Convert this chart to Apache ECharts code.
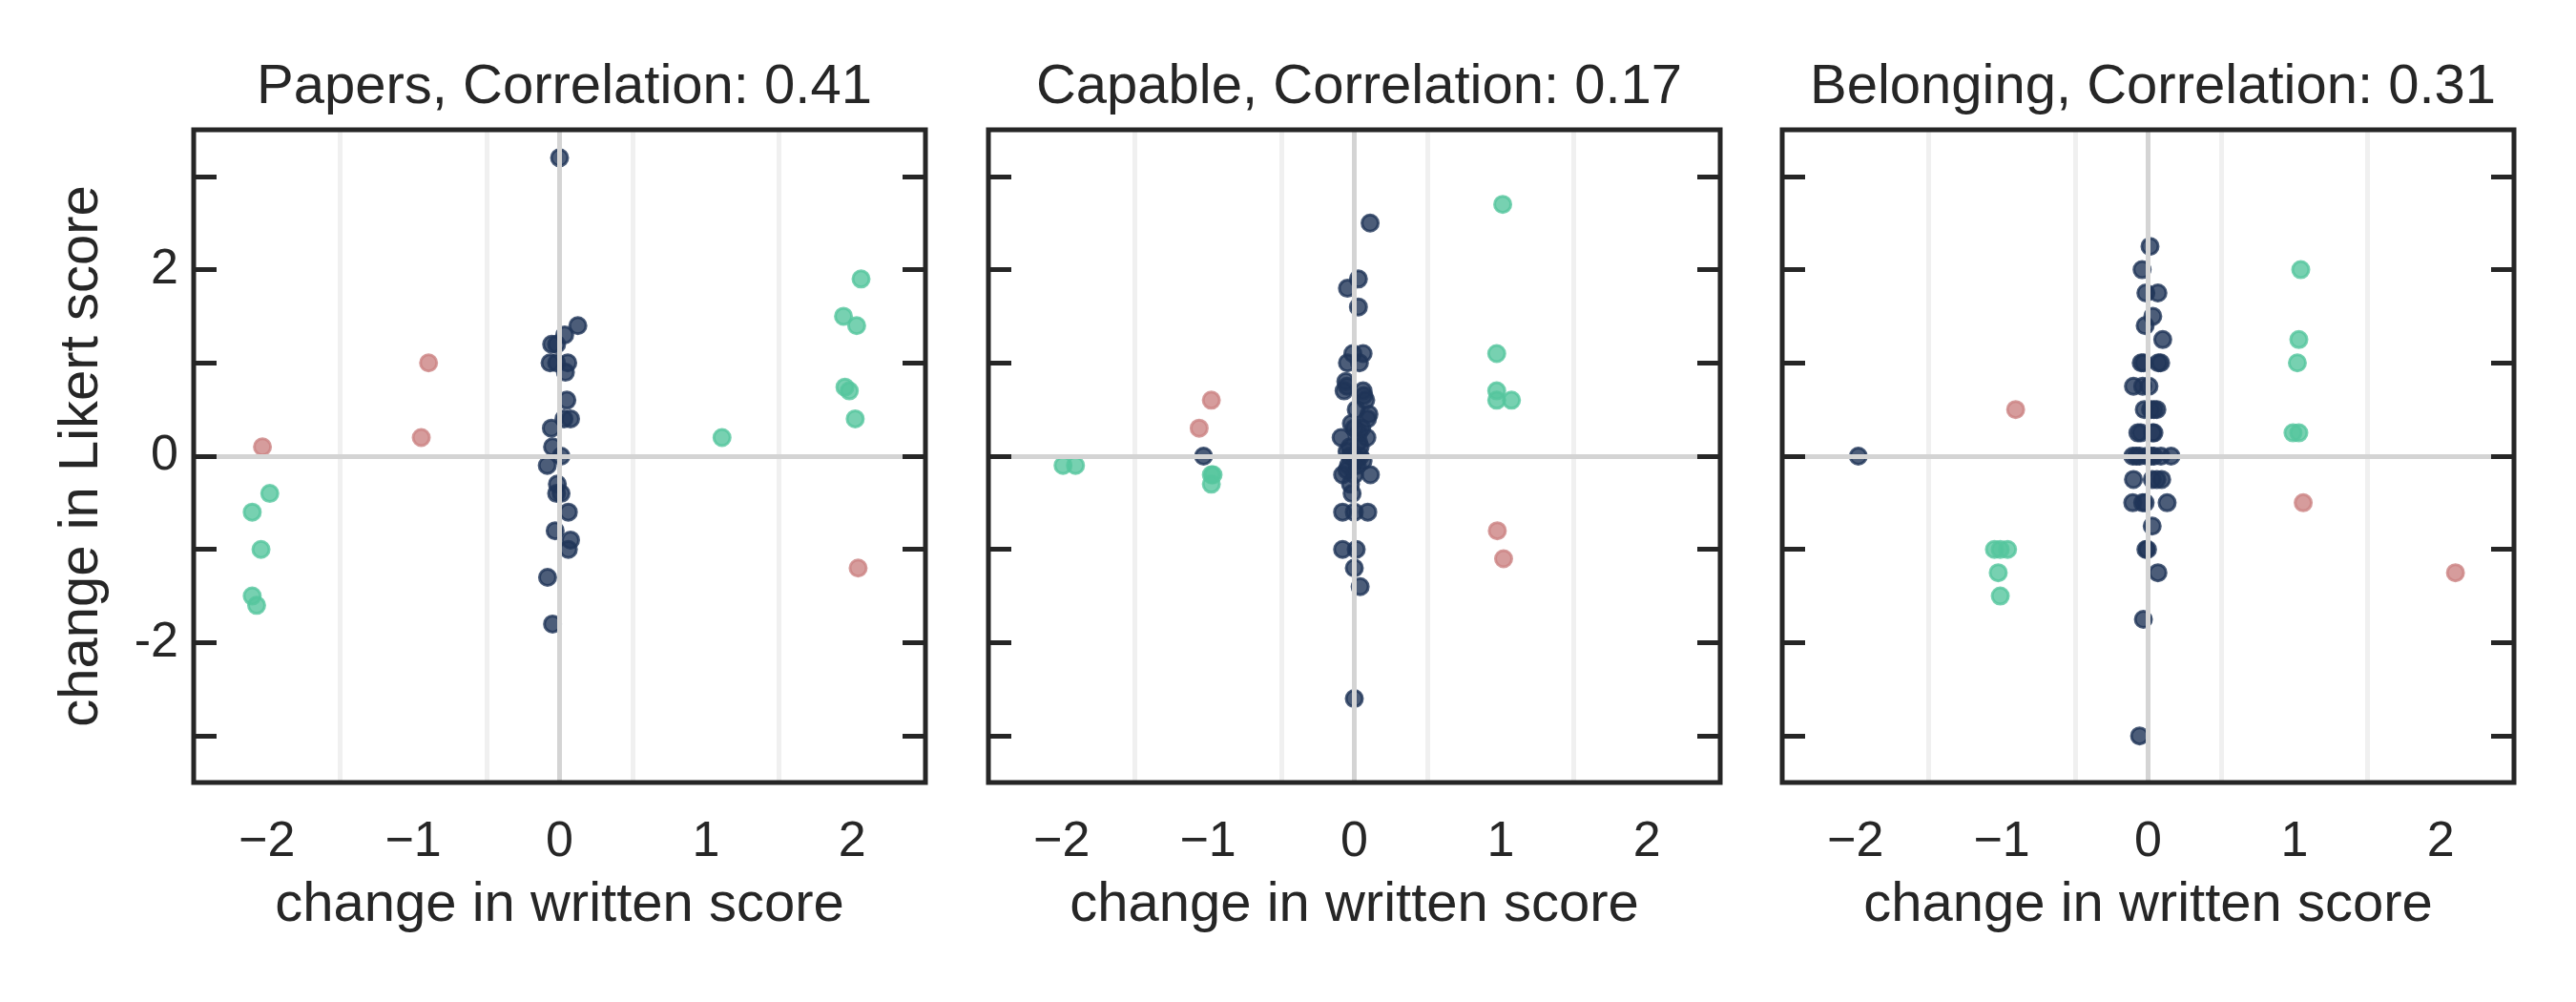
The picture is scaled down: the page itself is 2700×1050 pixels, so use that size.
<!DOCTYPE html>
<html>
<head>
<meta charset="utf-8">
<script src="https://cdn.jsdelivr.net/npm/echarts@6/dist/echarts.min.js"></script>
<style>
  html, body { margin: 0; padding: 0; background: #ffffff; }
  #main { width: 2700px; height: 1050px; }
</style>
</head>
<body>
<div id="main"></div>
<script type="text/javascript">
  // values: [change in written score (jittered), change in Likert score]
  var panelTitles = ['Papers, Correlation: 0.41', 'Capable, Correlation: 0.17', 'Belonging, Correlation: 0.31'];
  var xTicks = [-2, -1, 0, 1, 2];
  var yTicks = [-3, -2, -1, 0, 1, 2, 3];
  var yLabels = [-2, 0, 2];
  var gridLinesX = [-1.5, -0.5, 0.5, 1.5];

  // navy = one of the two changes is zero, green = same sign, red = opposite sign
  var papersNeutral = [
    [0.0, 3.2], [0.125, 1.4], [0.035, 1.3], [-0.054, 1.2], [-0.02, 1.2], [-0.065, 1.0], [-0.02, 1.0],
    [0.056, 1.0], [0.04, 0.9], [0.05, 0.6], [0.03, 0.4], [0.075, 0.4], [-0.056, 0.3], [-0.048, 0.1],
    [0.01, 0.0], [-0.084, -0.1], [-0.015, -0.3], [-0.02, -0.4], [0.01, -0.4], [0.06, -0.6],
    [-0.03, -0.8], [0.075, -0.9], [0.06, -1.0], [-0.082, -1.3], [-0.048, -1.8]
  ];
  var papersAgree = [
    [-1.98, -0.4], [-2.1, -0.6], [-2.04, -1.0], [-2.1, -1.5], [-2.07, -1.6], [1.11, 0.2],
    [2.06, 1.9], [1.94, 1.5], [2.03, 1.4], [1.95, 0.74], [1.98, 0.7], [2.02, 0.4]
  ];
  var papersDisagree = [[-2.03, 0.1], [-0.895, 1.0], [-0.945, 0.2], [2.04, -1.2]];

  var capableNeutral = [
    [0.108, 2.5], [0.028, 1.9], [-0.047, 1.8], [0.028, 1.6], [-0.01, 1.1], [0.06, 1.1], [-0.047, 1.0],
    [0.035, 1.0], [-0.058, 0.8], [-0.05, 0.75], [-0.07, 0.7], [0.06, 0.7], [0.065, 0.65], [0.078, 0.6],
    [0.013, 0.5], [0.1, 0.45], [0.09, 0.4], [-0.02, 0.35], [0.0, 0.3], [0.05, 0.3], [0.03, 0.25],
    [-0.09, 0.2], [0.086, 0.2], [0.03, 0.15], [-0.03, 0.1], [0.04, 0.1], [-0.05, 0.05], [0.0, 0.0],
    [-0.03, 0.0], [0.04, 0.0], [0.01, -0.05], [0.06, -0.05], [-0.04, -0.1], [0.02, -0.1],
    [-0.05, -0.15], [0.0, -0.2], [0.11, -0.2], [-0.08, -0.2], [-0.026, -0.3], [-0.015, -0.4],
    [-0.08, -0.6], [0.0, -0.6], [0.092, -0.6], [-0.08, -1.0], [0.013, -1.0], [0.0, -1.2],
    [0.04, -1.4], [0.0, -2.6], [-1.03, 0.0]
  ];
  var capableAgree = [
    [-1.99, -0.1], [-1.905, -0.1], [-0.977, -0.2], [-0.965, -0.2], [-0.977, -0.3],
    [1.014, 2.7], [0.973, 1.1], [0.973, 0.7], [0.973, 0.6], [1.074, 0.6]
  ];
  var capableDisagree = [[-0.977, 0.6], [-1.06, 0.3], [0.977, -0.8], [1.02, -1.1]];

  var belongingNeutral = [
    [-1.98, 0.0], [0.013, 2.25], [-0.041, 2.0], [-0.015, 1.75], [0.067, 1.75], [0.032, 1.5],
    [-0.02, 1.4], [0.1, 1.25], [-0.047, 1.0], [-0.03, 1.0], [0.086, 1.0], [0.07, 1.0],
    [-0.1, 0.75], [-0.037, 0.75], [0.006, 0.75], [-0.026, 0.5], [0.017, 0.5], [0.04, 0.5],
    [0.06, 0.5], [-0.07, 0.25], [-0.05, 0.25], [0.03, 0.25], [0.04, 0.25], [-0.105, 0.0],
    [-0.08, 0.0], [-0.058, 0.0], [-0.004, 0.0], [0.02, 0.0], [0.04, 0.0], [0.088, 0.0],
    [0.157, 0.0], [-0.1, -0.25], [0.028, -0.25], [0.06, -0.25], [0.093, -0.25], [-0.105, -0.5],
    [-0.037, -0.5], [-0.02, -0.5], [0.13, -0.5], [0.028, -0.75], [-0.004, -1.0], [-0.015, -1.0],
    [0.067, -1.25], [-0.032, -1.75], [-0.058, -3.0]
  ];
  var belongingAgree = [
    [-1.05, -1.0], [-1.01, -1.0], [-0.96, -1.0], [-1.024, -1.25], [-1.01, -1.5],
    [1.043, 2.0], [1.03, 1.25], [1.02, 1.0], [0.99, 0.25], [1.03, 0.25]
  ];
  var belongingDisagree = [[-0.905, 0.5], [1.06, -0.5], [2.1, -1.25]];

  var panelData = [
    [papersNeutral, papersAgree, papersDisagree],
    [capableNeutral, capableAgree, capableDisagree],
    [belongingNeutral, belongingAgree, belongingDisagree]
  ];
  var groupNames = ['neutral', 'agree', 'disagree'];
  var groupColors = ['#1f3557', '#55c69e', '#cc8383'];

  var FONT = "'Liberation Sans', Arial, sans-serif";
  var INK = '#262626';
  var gridLeft = [203, 1036, 1868];
  var gridTop = 136;
  var gridW = 767;
  var gridH = 684;

  var myChart = echarts.init(document.getElementById('main'), null, { renderer: 'canvas' });

  var grids = [], xAxes = [], yAxes = [], titles = [], series = [];

  for (var i = 0; i < 3; i++) {
    grids.push({
      left: gridLeft[i], top: gridTop, width: gridW, height: gridH,
      show: true, borderColor: INK, borderWidth: 5, backgroundColor: 'transparent', z: 10
    });

    titles.push({
      text: panelTitles[i],
      left: gridLeft[i] + gridW / 2,
      top: 58,
      textAlign: 'center',
      textStyle: { fontFamily: FONT, fontSize: 58, fontWeight: 'normal', color: INK }
    });

    xAxes.push({
      gridIndex: i, type: 'value', min: -2.5, max: 2.5, position: 'bottom',
      axisLine: { show: false, onZero: false }, axisTick: { show: false }, splitLine: { show: false },
      axisLabel: {
        customValues: xTicks, margin: 37,
        fontFamily: FONT, fontSize: 52, color: INK,
        formatter: function (v) { return String(v).replace('-', '\u2212'); }
      },
      name: 'change in written score', nameLocation: 'middle', nameGap: 100,
      nameTextStyle: { fontFamily: FONT, fontSize: 58, color: INK }
    });

    // left and right y axes with inward ticks
    ['left', 'right'].forEach(function (side) {
      var ax = {
        gridIndex: i, type: 'value', position: side, min: -3.5, max: 3.5, z: 5,
        axisLine: { show: false, onZero: false }, splitLine: { show: false },
        axisTick: { show: true, inside: true, length: 24, customValues: yTicks, lineStyle: { color: INK, width: 5 } },
        axisLabel: { show: false }
      };
      if (i === 0 && side === 'left') {
        ax.axisLabel = { show: true, customValues: yLabels, margin: 16, fontFamily: FONT, fontSize: 52, color: INK };
        ax.name = 'change in Likert score';
        ax.nameLocation = 'middle';
        ax.nameGap = 88;
        ax.nameTextStyle = { fontFamily: FONT, fontSize: 58, color: INK };
      }
      yAxes.push(ax);
    });

    // faint vertical grid lines and the zero cross
    var lines = gridLinesX.map(function (v) {
      return { xAxis: v, lineStyle: { color: '#f0f0f0', width: 5, type: 'solid' } };
    });
    lines.push({ xAxis: 0, lineStyle: { color: '#d4d4d4', width: 5, type: 'solid' } });
    lines.push({ yAxis: 0, lineStyle: { color: '#d4d4d4', width: 5, type: 'solid' } });
    series.push({
      type: 'scatter', xAxisIndex: i, yAxisIndex: i * 2, data: [], z: 1, silent: true,
      markLine: { silent: true, symbol: ['none', 'none'], label: { show: false }, animation: false, data: lines }
    });

    for (var g = 0; g < 3; g++) {
      series.push({
        name: groupNames[g],
        type: 'scatter',
        xAxisIndex: i, yAxisIndex: i * 2,
        data: panelData[i][g],
        symbol: 'circle',
        symbolSize: 17,
        z: 3,
        itemStyle: { color: groupColors[g], borderColor: groupColors[g], borderWidth: 3, opacity: 0.8 }
      });
    }
  }

  var option = {
    backgroundColor: '#ffffff',
    animation: false,
    title: titles,
    grid: grids,
    xAxis: xAxes,
    yAxis: yAxes,
    series: series
  };

  myChart.setOption(option);

  window.onresize = function () {
    myChart.resize();
  };
</script>
</body>
</html>
